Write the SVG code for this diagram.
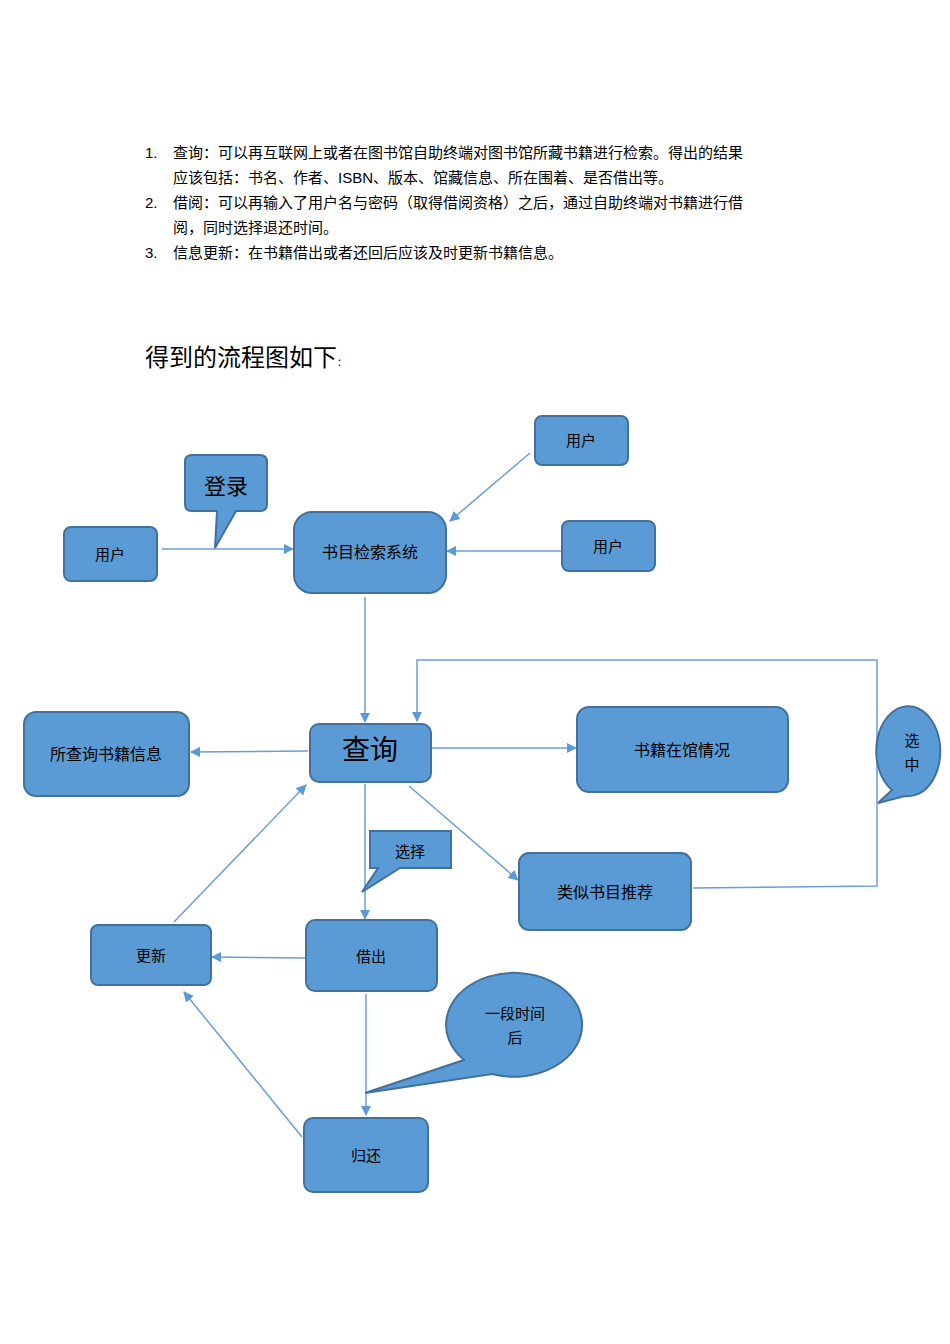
<svg xmlns="http://www.w3.org/2000/svg" width="950" height="1344" viewBox="0 0 950 1344">
<style>
.n{fill:#5b9bd5;stroke:#41719c;stroke-width:2}
.t{font-family:"Noto Sans CJK SC","Liberation Sans",sans-serif;fill:#000;text-anchor:middle}
.p{font-family:"Liberation Sans","Noto Sans CJK SC",sans-serif;font-size:15px;fill:#000}
.c{fill:none;stroke:#6a9fd4;stroke-width:1.5}
</style>
<defs><marker id="a" viewBox="0 0 10 10" refX="9" refY="5" markerWidth="7" markerHeight="7" orient="auto"><path d="M0,0 L10,5 L0,10 z" fill="#5b9bd5"/></marker></defs>
<text class="p" x="145" y="158">1.</text><text class="p" x="173" y="158">查询：可以再互联网上或者在图书馆自助终端对图书馆所藏书籍进行检索。得出的结果</text>
<text class="p" x="173" y="183">应该包括：书名、作者、ISBN、版本、馆藏信息、所在围着、是否借出等。</text>
<text class="p" x="145" y="208">2.</text><text class="p" x="173" y="208">借阅：可以再输入了用户名与密码（取得借阅资格）之后，通过自助终端对书籍进行借</text>
<text class="p" x="173" y="233">阅，同时选择退还时间。</text>
<text class="p" x="145" y="258">3.</text><text class="p" x="173" y="258">信息更新：在书籍借出或者还回后应该及时更新书籍信息。</text>
<text x="145" y="366" style="font-family:'Noto Sans CJK SC',sans-serif;font-size:24px">得到的流程图如下<tspan font-size="10">：</tspan></text>
<g id="connectors">
<line class="c" x1="162" y1="549" x2="293" y2="549" marker-end="url(#a)"/>
<line class="c" x1="530" y1="453" x2="450" y2="521" marker-end="url(#a)"/>
<line class="c" x1="562" y1="551" x2="447" y2="551" marker-end="url(#a)"/>
<line class="c" x1="365" y1="597" x2="365" y2="722" marker-end="url(#a)"/>
<line class="c" x1="432" y1="748" x2="576" y2="748" marker-end="url(#a)"/>
<line class="c" x1="308" y1="751" x2="191" y2="752" marker-end="url(#a)"/>
<line class="c" x1="409" y1="786" x2="518" y2="880" marker-end="url(#a)"/>
<polyline class="c" points="693,888 877,886 877,660 417,660 417,721" marker-end="url(#a)"/>
<line class="c" x1="365" y1="784" x2="365" y2="919" marker-end="url(#a)"/>
<line class="c" x1="305" y1="958" x2="212" y2="957" marker-end="url(#a)"/>
<line class="c" x1="174" y1="922" x2="306" y2="785" marker-end="url(#a)"/>
<line class="c" x1="366" y1="994" x2="366" y2="1115" marker-end="url(#a)"/>
<line class="c" x1="302" y1="1137" x2="184" y2="992" marker-end="url(#a)"/>
</g>
<g id="user1"><rect class="n" x="64" y="527" width="93" height="54" rx="7"/><text class="t" x="110" y="560" font-size="15">用户</text></g>
<g id="login"><path class="n" d="M192,455 H260 Q267,455 267,462 V504 Q267,511 260,511 H236 L215,548 L217,511 H192 Q185,511 185,504 V462 Q185,455 192,455 Z"/><text class="t" x="226" y="494" font-size="22">登录</text></g>
<g id="system"><rect class="n" x="294" y="512" width="152" height="81" rx="18"/><text class="t" x="370" y="558" font-size="16">书目检索系统</text></g>
<g id="user2"><rect class="n" x="535" y="416" width="93" height="49" rx="7"/><text class="t" x="581" y="446" font-size="15">用户</text></g>
<g id="user3"><rect class="n" x="562" y="521" width="93" height="50" rx="7"/><text class="t" x="608" y="552" font-size="15">用户</text></g>
<g id="query"><rect class="n" x="310" y="724" width="121" height="58" rx="9"/><text class="t" x="370" y="760" font-size="28">查询</text></g>
<g id="info"><rect class="n" x="24" y="712" width="165" height="84" rx="12"/><text class="t" x="106" y="760" font-size="16">所查询书籍信息</text></g>
<g id="status"><rect class="n" x="577" y="707" width="211" height="85" rx="12"/><text class="t" x="682" y="756" font-size="16">书籍在馆情况</text></g>
<g id="selected"><path class="n" d="M892,790 A32,45 0 1 1 905,796 L878,803 Z"/><text class="t" x="912" y="746" font-size="15">选</text><text class="t" x="912" y="770" font-size="15">中</text></g>
<g id="similar"><rect class="n" x="519" y="853" width="172" height="77" rx="10"/><text class="t" x="605" y="898" font-size="16">类似书目推荐</text></g>
<g id="choose"><path class="n" d="M370,831 H451 V868 H400 L362,892 L378,868 H370 Z"/><text class="t" x="410" y="857" font-size="15">选择</text></g>
<g id="borrow"><rect class="n" x="306" y="920" width="131" height="71" rx="9"/><text class="t" x="371" y="962" font-size="15">借出</text></g>
<g id="update"><rect class="n" x="91" y="925" width="120" height="60" rx="7"/><text class="t" x="151" y="961" font-size="15">更新</text></g>
<g id="period"><path class="n" d="M464,1060 A68,52 0 1 1 492,1074 L365,1093 Z"/><text class="t" x="515" y="1019" font-size="15">一段时间</text><text class="t" x="515" y="1043" font-size="15">后</text></g>
<g id="return"><rect class="n" x="304" y="1118" width="124" height="74" rx="9"/><text class="t" x="366" y="1161" font-size="15">归还</text></g>
</svg>
